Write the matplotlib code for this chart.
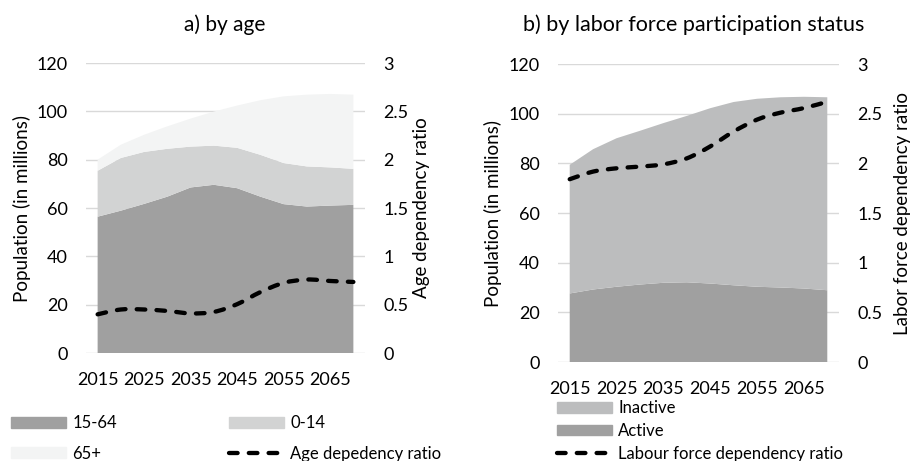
import numpy as np
import matplotlib
matplotlib.use("Agg")
import matplotlib.pyplot as plt
from matplotlib.path import Path
from matplotlib.patches import PathPatch, Patch
from matplotlib.lines import Line2D

plt.rcParams["font.family"] = ["Lato", "DejaVu Sans"]

years = [2015, 2020, 2025, 2030, 2035, 2040, 2045, 2050, 2055, 2060, 2065, 2070]
tick_years = [2015, 2025, 2035, 2045, 2055, 2065]

# a) by age (millions)
age_15_64 = [56.4, 58.9, 61.7, 64.7, 68.5, 69.6, 68.2, 64.7, 61.6, 60.6, 61.0, 61.3]
age_0_14 = [19.0, 21.8, 21.5, 19.8, 16.9, 16.2, 16.7, 17.3, 17.0, 16.6, 15.8, 14.9]
age_65plus = [4.6, 5.5, 7.1, 9.3, 11.6, 14.1, 17.5, 22.6, 27.6, 29.7, 30.4, 30.7]
age_dep_ratio = [0.40, 0.45, 0.45, 0.435, 0.41, 0.425, 0.505, 0.63, 0.725, 0.76, 0.745, 0.735]

# b) by labor force participation status (millions)
active = [27.6, 29.2, 30.3, 31.2, 31.9, 32.1, 31.6, 30.9, 30.3, 30.0, 29.6, 28.9]
inactive = [51.8, 56.5, 59.8, 61.9, 64.3, 67.0, 70.6, 73.8, 75.7, 76.6, 77.2, 77.7]
lf_dep_ratio = [1.84, 1.917, 1.95, 1.967, 1.99, 2.05, 2.17, 2.32, 2.44, 2.51, 2.556, 2.62]

DARK = "#a0a0a0"
MID = "#d2d3d3"
LIGHT = "#f3f4f4"
INACT = "#bcbdbe"
GRID = "#d9d9d9"
FS = 13
DASH = (0, (2, 2.6))


def smooth_path(x, y):
    # Excel-style smoothed line: cubic Bezier through every point
    x = np.asarray(x, float)
    y = np.asarray(y, float)
    pts = np.column_stack([x, y])
    n = len(pts)
    verts = [pts[0]]
    codes = [Path.MOVETO]
    for i in range(n - 1):
        p0 = pts[i - 1] if i > 0 else pts[i]
        p1, p2 = pts[i], pts[i + 1]
        p3 = pts[i + 2] if i + 2 < n else pts[i + 1]
        verts += [p1 + (p2 - p0) / 6, p2 - (p3 - p1) / 6, p2]
        codes += [Path.CURVE4] * 3
    return Path(verts, codes)


def dashed(ax, x, y):
    patch = PathPatch(smooth_path(x, y), fill=False, edgecolor="black",
                      linewidth=3.1, linestyle=DASH,
                      capstyle="round", joinstyle="round", zorder=5)
    ax.add_patch(patch)


def style_axes(ax, ax2, ylabel, ylabel2, lx, rx):
    ax.set_xlim(2012.5, 2072.5)
    ax.set_ylim(0, 120)
    ax.set_yticks(range(0, 121, 20))
    ax.set_xticks(tick_years)
    ax2.set_ylim(0, 3)
    ax2.set_yticks([0, 0.5, 1, 1.5, 2, 2.5, 3])
    ax2.set_yticklabels(["0", "0.5", "1", "1.5", "2", "2.5", "3"])
    ax.grid(axis="y", color=GRID, linewidth=1)
    ax.set_axisbelow(True)
    for a in (ax, ax2):
        for s in a.spines.values():
            s.set_visible(False)
        a.tick_params(length=0, labelsize=FS, pad=13)
    ax.tick_params(axis="x", pad=14)
    ax.set_ylabel(ylabel, fontsize=FS + 0.5)
    ax2.set_ylabel(ylabel2, fontsize=FS + 0.5)
    ax.yaxis.set_label_coords(lx, 0.5)
    ax2.yaxis.set_label_coords(rx, 0.5)


fig = plt.figure(figsize=(9.14, 4.61), dpi=100)

# a) by age
ax1 = fig.add_axes([86 / 914, 1 - 353 / 461, 279 / 914, 290 / 461])
ax1b = ax1.twinx()
ax1.stackplot(years, age_15_64, age_0_14, age_65plus,
              colors=[DARK, MID, LIGHT], linewidth=0)
dashed(ax1b, years, age_dep_ratio)
style_axes(ax1, ax1b, "Population (in millions)", "Age dependency ratio",
           -0.197, 1.172)
fig.text(225 / 914, 1 - 25 / 461, "a) by age", fontsize=15,
         ha="center", va="center")

h1 = [Patch(color=DARK, label="15-64"), Patch(color=LIGHT, label="65+"),
      Patch(color=MID, label="0-14"),
      Line2D([], [], color="black", linewidth=3.1, linestyle=DASH,
             dash_capstyle="round", label="Age depedency ratio")]
fig.legend(handles=h1, ncol=2, loc="upper left",
           bbox_to_anchor=(-2 / 914, 1 - 402 / 461), frameon=False,
           fontsize=12, handlelength=3.3, handleheight=0.6,
           labelspacing=0.85, columnspacing=6.75, handletextpad=0.35,
           borderpad=0.3)

# b) by labor force participation status
ax2 = fig.add_axes([558 / 914, 1 - 362 / 461, 281 / 914, 298 / 461])
ax2b = ax2.twinx()
ax2.stackplot(years, active, inactive, colors=[DARK, INACT], linewidth=0)
dashed(ax2b, years, lf_dep_ratio)
style_axes(ax2, ax2b, "Population (in millions)",
           "Labor force dependency ratio", -0.199, 1.196)
fig.text(694 / 914, 1 - 25 / 461, "b) by labor force participation status",
         fontsize=15.5, ha="center", va="center")

h2 = [Patch(color=INACT, label="Inactive"), Patch(color=DARK, label="Active"),
      Line2D([], [], color="black", linewidth=3.1, linestyle=DASH,
             dash_capstyle="round", label="Labour force dependency ratio")]
fig.legend(handles=h2, ncol=1, loc="upper left",
           bbox_to_anchor=(544 / 914, 1 - 387 / 461), frameon=False,
           fontsize=12, handlelength=3.3, handleheight=0.6,
           labelspacing=0.4, handletextpad=0.35, borderpad=0.3)

fig.savefig("out.png", dpi=100)
